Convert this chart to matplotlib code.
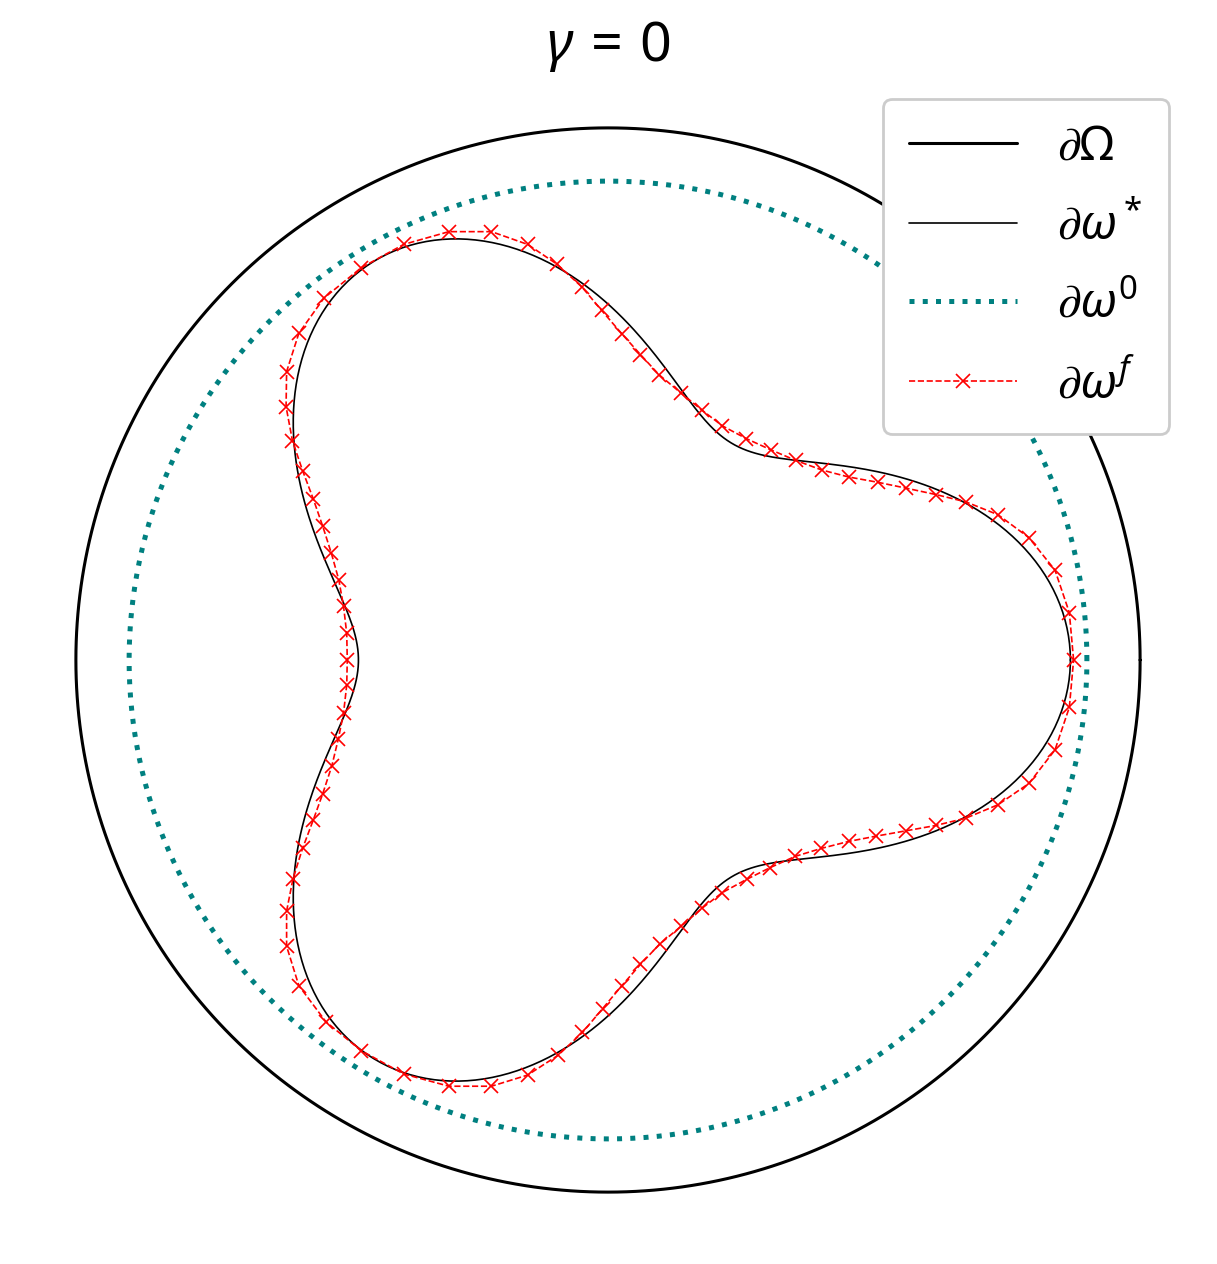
import matplotlib
matplotlib.use("Agg")
import matplotlib.pyplot as plt
import numpy as np

plt.rcParams["mathtext.fontset"] = "custom"
plt.rcParams["mathtext.rm"] = "Noto Sans"
plt.rcParams["mathtext.it"] = "Noto Sans:italic"
plt.rcParams["mathtext.bf"] = "Noto Sans:bold"

# domain and initial guess are circles (radius, unit = outer radius)
outer_radius = 1.0
initial_radius = 0.9

# target inclusion: r(t) = mean + amp * cos(lobes * t)
star_mean = 0.669
star_amp = 0.20
star_lobes = 3

# reconstructed boundary nodes, counter-clockwise from t=0
final_x = [0.875, 0.867, 0.840, 0.791, 0.733, 0.673, 0.616, 0.560, 0.507, 0.452,
           0.402, 0.353, 0.306, 0.260, 0.215, 0.176, 0.138, 0.096, 0.061, 0.026,
           -0.012, -0.049, -0.096, -0.151, -0.219, -0.299, -0.384, -0.464, -0.534, -0.581,
           -0.604, -0.605, -0.593, -0.574, -0.554, -0.536, -0.520, -0.506, -0.497, -0.491,
           -0.490, -0.491, -0.497, -0.507, -0.519, -0.536, -0.554, -0.574, -0.592, -0.604,
           -0.604, -0.581, -0.530, -0.464, -0.384, -0.299, -0.219, -0.151, -0.094, -0.048,
           -0.010, 0.026, 0.061, 0.097, 0.138, 0.176, 0.215, 0.261, 0.305, 0.352,
           0.401, 0.452, 0.504, 0.560, 0.616, 0.673, 0.733, 0.791, 0.840, 0.867]
final_y = [0.000, 0.089, 0.169, 0.230, 0.273, 0.297, 0.311, 0.323, 0.334, 0.344,
           0.357, 0.375, 0.395, 0.416, 0.440, 0.470, 0.501, 0.536, 0.574, 0.613,
           0.657, 0.701, 0.744, 0.781, 0.805, 0.805, 0.781, 0.737, 0.680, 0.614,
           0.542, 0.476, 0.412, 0.356, 0.303, 0.251, 0.201, 0.151, 0.101, 0.050,
           0.000, -0.047, -0.100, -0.149, -0.199, -0.251, -0.301, -0.354, -0.411, -0.472,
           -0.538, -0.612, -0.680, -0.734, -0.778, -0.801, -0.801, -0.780, -0.743, -0.700,
           -0.655, -0.612, -0.572, -0.534, -0.500, -0.467, -0.437, -0.412, -0.390, -0.369,
           -0.354, -0.341, -0.331, -0.321, -0.311, -0.297, -0.272, -0.232, -0.169, -0.089]

title = r"$\gamma\,=\,0$"
labels = [r"$\partial\Omega$", r"$\partial\omega^*$", r"$\partial\omega^0$", r"$\partial\omega^f$"]

t = np.linspace(0, 2 * np.pi, 721)
r_star = star_mean + star_amp * np.cos(star_lobes * t)
fx = np.append(final_x, final_x[0])
fy = np.append(final_y, final_y[0])

fig = plt.figure(figsize=(12.17 / 2, 12.64 / 2), dpi=200)
ax = fig.add_axes([27 / 1217, 24 / 1264, 1162 / 1217, 1160 / 1264])

ax.plot(outer_radius * np.cos(t), outer_radius * np.sin(t), color="black", linewidth=1.1,
        solid_capstyle="round", label=labels[0])
ax.plot(r_star * np.cos(t), r_star * np.sin(t), color="black", linewidth=0.6,
        solid_capstyle="round", label=labels[1])
ax.plot(initial_radius * np.cos(t), initial_radius * np.sin(t), color="teal", linewidth=1.8,
        linestyle=":", label=labels[2])
ax.plot(fx, fy, color="red", linewidth=0.6, linestyle="--", marker="x", markersize=5,
        markeredgewidth=0.6, markevery=slice(0, len(final_x)), label=labels[3])

ax.set_xlim(-1.09, 1.09)
ax.set_ylim(-1.09, 1.09)
ax.set_aspect("equal")
ax.axis("off")
ax.set_title(title, fontsize=20, pad=7)
ax.legend(loc="upper right", fontsize=17, framealpha=1, handlelength=2.3,
          handletextpad=0.85, borderpad=0.55, labelspacing=0.68, borderaxespad=0.4)

fig.savefig("out.png", dpi=200)
